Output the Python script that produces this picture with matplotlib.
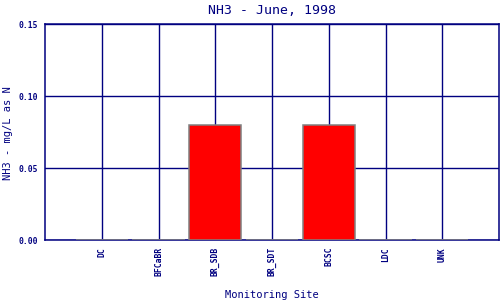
import matplotlib
matplotlib.use('Agg')
import matplotlib.pyplot as plt

sites=['DC','BFCaBR','BR_SDB','BR_SDT','BCSC','LDC','UNK']
nh3=[0,0,0.08,0,0.08,0,0]
yticks=[0.00,0.05,0.10,0.15]

navy='#000080'
plt.rcParams['font.family']='DejaVu Sans Mono'

fig=plt.figure(figsize=(5,3),dpi=100)
ax=fig.add_axes([0.09,0.2,0.908,0.72])

pos=list(range(1,len(sites)+1))
ax.bar(pos,nh3,width=0.92,color='#ff0000',edgecolor='#808080',linewidth=1.1,zorder=3)

ax.set_xlim(0,len(sites)+1)
ax.set_ylim(0,0.15)
ax.set_xticks(pos)
ax.set_xticklabels(sites,rotation=90,fontsize=5.8,color=navy,fontweight='bold')
ax.set_yticks(yticks)
ax.set_yticklabels(['%.2f'%v for v in yticks],fontsize=5.8,color=navy,fontweight='bold')
ax.tick_params(length=0,pad=5)
ax.grid(True,color=navy,linewidth=1.0)
ax.set_axisbelow(True)
for s in ax.spines.values():
	s.set_color(navy)
	s.set_linewidth(1.1)
	s.set_zorder(1)

ax.set_title('NH3 - June, 1998',fontsize=9.5,color=navy,pad=7)
fig.text(0.544,0.0,'Monitoring Site',fontsize=7.5,color=navy,ha='center',va='bottom')
fig.text(0.016,0.555,'NH3 - mg/L as N',fontsize=7.5,color=navy,ha='center',va='center',rotation=90)

fig.savefig('out.png',dpi=100)
